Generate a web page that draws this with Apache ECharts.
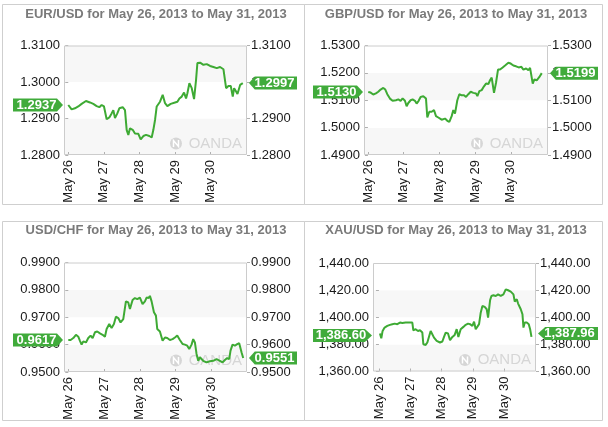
<!DOCTYPE html>
<html><head><meta charset="utf-8">
<script src="https://cdn.jsdelivr.net/npm/echarts@6/dist/echarts.min.js"></script>
<style>html,body{margin:0;padding:0;background:#fff}#c{width:608px;height:427px}</style>
</head><body><div id="c"></div>
<script>
// ---------- data ----------
const xTickDays = [0, 1, 2, 3, 4];
const xTickLabels = ['May 26', 'May 27', 'May 28', 'May 29', 'May 30'];
const pairs = ['EUR/USD', 'GBP/USD', 'USD/CHF', 'XAU/USD'];
const periodText = 'for May 26, 2013 to May 31, 2013';

// [day offset from May 26, price]
const eurusd = [[0,1.2937],[0.094,1.2925],[0.187,1.2928],[0.281,1.2933],[0.375,1.2940],[0.497,1.2948],[0.609,1.2944],[0.703,1.2940],[0.797,1.2934],[0.872,1.2931],[0.937,1.2937],[1.003,1.2933],[1.059,1.2934],[1.078,1.2898],[1.153,1.2903],[1.218,1.2914],[1.265,1.2923],[1.312,1.2901],[1.378,1.2914],[1.434,1.2928],[1.528,1.2931],[1.593,1.2923],[1.640,1.2869],[1.687,1.2855],[1.734,1.2873],[1.809,1.2869],[1.874,1.2859],[1.968,1.2858],[2.034,1.2843],[2.109,1.2852],[2.184,1.2855],[2.277,1.2852],[2.343,1.2848],[2.390,1.2869],[2.437,1.2896],[2.484,1.2933],[2.577,1.2946],[2.652,1.2965],[2.718,1.2942],[2.783,1.2934],[2.877,1.2940],[2.999,1.2944],[3.065,1.2946],[3.121,1.2955],[3.187,1.2960],[3.252,1.2971],[3.308,1.2955],[3.346,1.2969],[3.402,1.2997],[3.468,1.2983],[3.533,1.2953],[3.589,1.3006],[3.627,1.3052],[3.702,1.3053],[3.796,1.3047],[3.889,1.3049],[3.983,1.3044],[4.077,1.3041],[4.171,1.3038],[4.264,1.3041],[4.358,1.3035],[4.433,1.2983],[4.499,1.2989],[4.564,1.2989],[4.620,1.2960],[4.658,1.2983],[4.714,1.2974],[4.752,1.2967],[4.827,1.2992],[4.902,1.2997]];

const gbpusd = [[0.009,1.5130],[0.075,1.5128],[0.149,1.5121],[0.224,1.5125],[0.289,1.5131],[0.355,1.5139],[0.430,1.5145],[0.486,1.5139],[0.542,1.5122],[0.616,1.5106],[0.691,1.5098],[0.784,1.5100],[0.850,1.5103],[0.915,1.5098],[0.971,1.5107],[1.036,1.5098],[1.083,1.5078],[1.130,1.5090],[1.195,1.5100],[1.251,1.5103],[1.316,1.5098],[1.363,1.5088],[1.419,1.5098],[1.475,1.5112],[1.550,1.5115],[1.625,1.5106],[1.662,1.5037],[1.718,1.5058],[1.783,1.5058],[1.849,1.5064],[1.905,1.5042],[1.970,1.5037],[2.063,1.5029],[2.157,1.5033],[2.222,1.5025],[2.278,1.5021],[2.344,1.5042],[2.390,1.5064],[2.437,1.5051],[2.502,1.5100],[2.558,1.5122],[2.624,1.5118],[2.689,1.5118],[2.745,1.5112],[2.810,1.5122],[2.876,1.5131],[2.951,1.5127],[3.025,1.5125],[3.063,1.5115],[3.119,1.5133],[3.184,1.5137],[3.249,1.5151],[3.305,1.5161],[3.371,1.5159],[3.417,1.5173],[3.464,1.5183],[3.529,1.5127],[3.585,1.5164],[3.641,1.5212],[3.697,1.5212],[3.772,1.5220],[3.847,1.5228],[3.931,1.5237],[3.996,1.5234],[4.071,1.5227],[4.146,1.5224],[4.220,1.5220],[4.295,1.5222],[4.351,1.5212],[4.426,1.5216],[4.491,1.5210],[4.538,1.5218],[4.585,1.5212],[4.613,1.5161],[4.659,1.5176],[4.725,1.5173],[4.799,1.5185],[4.865,1.5199]];

const usdchf = [[0,0.9617],[0.065,0.9617],[0.140,0.9624],[0.214,0.9636],[0.279,0.9629],[0.326,0.9614],[0.372,0.9600],[0.419,0.9612],[0.493,0.9608],[0.558,0.9624],[0.623,0.9633],[0.679,0.9624],[0.744,0.9645],[0.809,0.9648],[0.884,0.9641],[0.958,0.9636],[1.023,0.9629],[1.070,0.9657],[1.144,0.9675],[1.209,0.9661],[1.274,0.9675],[1.330,0.9702],[1.395,0.9697],[1.460,0.9681],[1.535,0.9693],[1.609,0.9758],[1.674,0.9754],[1.721,0.9730],[1.795,0.9763],[1.860,0.9770],[1.926,0.9766],[2.000,0.9772],[2.074,0.9748],[2.140,0.9758],[2.186,0.9772],[2.242,0.9770],[2.279,0.9778],[2.326,0.9758],[2.391,0.9718],[2.447,0.9706],[2.484,0.9657],[2.558,0.9648],[2.633,0.9614],[2.698,0.9626],[2.763,0.9624],[2.837,0.9617],[2.912,0.9620],[2.977,0.9626],[3.042,0.9633],[3.116,0.9617],[3.191,0.9602],[3.256,0.9600],[3.321,0.9596],[3.377,0.9584],[3.442,0.9600],[3.488,0.9620],[3.535,0.9608],[3.581,0.9566],[3.628,0.9541],[3.674,0.9554],[3.767,0.9541],[3.860,0.9535],[3.953,0.9539],[4.047,0.9541],[4.140,0.9547],[4.233,0.9541],[4.307,0.9535],[4.372,0.9544],[4.437,0.9551],[4.493,0.9547],[4.530,0.9578],[4.586,0.9600],[4.651,0.9596],[4.716,0.9602],[4.772,0.9605],[4.809,0.9600],[4.837,0.9572],[4.884,0.9551]];

const xauusd = [[0.032,1388.0],[0.075,1384.5],[0.117,1389.9],[0.181,1392.4],[0.267,1393.6],[0.352,1394.4],[0.427,1394.9],[0.501,1395.3],[0.587,1394.9],[0.672,1396.1],[0.747,1395.8],[0.853,1396.1],[0.960,1396.1],[1.067,1396.1],[1.099,1390.4],[1.173,1391.2],[1.248,1389.9],[1.312,1390.4],[1.387,1388.7],[1.419,1380.1],[1.493,1379.6],[1.547,1381.4],[1.600,1380.6],[1.653,1389.9],[1.707,1388.7],[1.760,1385.0],[1.845,1382.6],[1.952,1381.4],[2.027,1382.1],[2.080,1385.5],[2.133,1388.7],[2.208,1388.0],[2.272,1383.1],[2.347,1385.5],[2.421,1387.0],[2.485,1391.2],[2.539,1385.5],[2.613,1391.2],[2.699,1392.9],[2.773,1394.4],[2.848,1395.3],[2.912,1394.9],[2.987,1393.6],[3.040,1396.8],[3.093,1391.2],[3.147,1392.4],[3.200,1394.9],[3.253,1403.4],[3.307,1408.3],[3.381,1407.6],[3.445,1405.9],[3.488,1399.8],[3.552,1412.5],[3.595,1415.7],[3.659,1416.2],[3.733,1415.7],[3.808,1416.9],[3.893,1415.7],[3.979,1416.9],[4.053,1420.6],[4.128,1419.9],[4.213,1418.9],[4.299,1416.9],[4.341,1411.5],[4.405,1413.3],[4.448,1410.1],[4.491,1411.5],[4.533,1405.9],[4.587,1402.2],[4.619,1392.4],[4.661,1396.1],[4.725,1396.1],[4.789,1394.9],[4.832,1391.2],[4.875,1385.5]];

const seriesData = [eurusd, gbpusd, usdchf, xauusd];
const openQuotes = [1.2937, 1.5130, 0.9617, 1386.60];
const closeQuotes = [1.2997, 1.5199, 0.9551, 1387.96];
const yMin = [1.28, 1.49, 0.95, 1360];
const yMax = [1.31, 1.53, 0.99, 1440];
const yStep = [0.01, 0.01, 0.01, 20];
const decimals = [4, 4, 4, 2];

// ---------- layout / style ----------
const FONT = '"Liberation Sans", Arial, Helvetica, sans-serif';
const LINE = '#3eaa34';
const BOX = '#40ab3b';
const panels = [
  {box:[2.5,4.5,302,200],   grid:{left:64, top:45.5, width:183, height:109.5}, xMin:-0.12, xMax:5.02, title:[156,14],  boxW:[50,48]},
  {box:[304.5,4.5,298,200], grid:{left:364,top:45.5, width:184, height:109.5}, xMin:-0.11, xMax:5.04, title:[456,14],  boxW:[50,48]},
  {box:[2.5,221.5,302,199], grid:{left:64, top:262.5,width:183, height:109.5}, xMin:-0.12, xMax:4.99, title:[156,230], boxW:[50,48]},
  {box:[304.5,221.5,298,199],grid:{left:373,top:263, width:163, height:108.5}, xMin:-0.19, xMax:5.02, title:[456,230], boxW:[59,60]}
];

function fmt(v, d) {
  const parts = v.toFixed(d).split('.');
  parts[0] = parts[0].replace(/\B(?=(\d{3})+(?!\d))/g, ',');
  return parts.join('.');
}

const LEFT_PATH = 'path://M0,0L44,0L50,6.5L44,13L0,13Z';
const RIGHT_PATH = 'path://M6,0L50,0L50,13L6,13L0,6.5Z';

const grids = [], xAxes = [], yAxes = [], series = [], graphics = [];

panels.forEach((p, i) => {
  grids.push(Object.assign({show:false, containLabel:false}, p.grid));
  xAxes.push({
    type:'value', gridIndex:i, min:p.xMin, max:p.xMax,
    axisLine:{show:false},
    axisTick:{show:true, inside:true, length:3, customValues:xTickDays, lineStyle:{color:'#b0b0b0'}},
    axisLabel:{show:true, customValues:xTickDays, rotate:90, margin:5, fontSize:13, color:'#1a1a1a', fontFamily:FONT,
      formatter:(v) => xTickLabels[xTickDays.indexOf(Math.round(v))] || ''},
    splitLine:{show:false}
  });
  const yCommon = {
    type:'value', gridIndex:i, min:yMin[i], max:yMax[i], interval:yStep[i],
    axisLine:{show:false},
    axisTick:{show:true, length:3, lineStyle:{color:'#b0b0b0'}},
    splitLine:{show:false}
  };
  yAxes.push(Object.assign({}, yCommon, {
    position:'left',
    axisLabel:{margin:4, fontSize:13, color:'#1a1a1a', fontFamily:FONT, formatter:(v)=>fmt(v, decimals[i])},
    splitArea:{show:true, areaStyle:{color:['#f7f7f7','#ffffff']}}
  }));
  yAxes.push(Object.assign({}, yCommon, {
    position:'right',
    axisLabel:{margin:4, fontSize:13, color:'#1a1a1a', fontFamily:FONT, formatter:(v)=>fmt(v, decimals[i])},
    splitArea:{show:false}
  }));
  const lw = p.boxW[0], rw = p.boxW[1];
  const lbl = (txt, off) => ({show:true, position:'inside', formatter:txt, color:'#fff', fontWeight:'bold',
    fontSize:13, fontFamily:FONT, offset:[off,0]});
  series.push({
    type:'line', xAxisIndex:i, yAxisIndex:2*i, data:seriesData[i],
    symbol:'none', showSymbol:false, animation:false, z:3,
    lineStyle:{color:LINE, width:2},
    markPoint:{
      silent:true, animation:false,
      data:[
        {coord:[p.xMin, openQuotes[i]], symbol:LEFT_PATH, symbolSize:[lw,13], symbolKeepAspect:false,
          symbolOffset:[-(lw/2+1),0], itemStyle:{color:BOX}, label:lbl(fmt(openQuotes[i],decimals[i]), -1.5)},
        {coord:[p.xMax, closeQuotes[i]], symbol:RIGHT_PATH, symbolSize:[rw,13], symbolKeepAspect:false,
          symbolOffset:[rw/2+2,0], itemStyle:{color:BOX}, label:lbl(fmt(closeQuotes[i],decimals[i]), 1.5)}
      ]
    }
  });

  const g = p.grid;
  const gr = g.left + g.width, gb = g.top + g.height;
  // panel frame
  graphics.push({type:'rect', z:5, silent:true, shape:{x:p.box[0], y:p.box[1], width:p.box[2], height:p.box[3]},
    style:{fill:'none', stroke:'#cfcfcf', lineWidth:1}});
  // plot frame
  graphics.push({type:'rect', z:4, silent:true, shape:{x:g.left+0.5, y:g.top+0.5, width:g.width-1, height:g.height-1},
    style:{fill:'none', stroke:'#cccccc', lineWidth:1}});
  // title
  graphics.push({type:'text', z:5, silent:true, x:p.title[0], y:p.title[1],
    style:{text:pairs[i] + ' ' + periodText, font:'bold 13px ' + FONT, fill:'#7a7a7a', align:'center', verticalAlign:'middle'}});
  // watermark
  graphics.push({type:'group', z:1, silent:true, x:gr, y:gb, children:[
    {type:'text', z:1, x:-5, y:-11.5, style:{text:'OANDA', font:'15px ' + FONT, fill:'#d6d6d6', align:'right', verticalAlign:'middle'}},
    {type:'circle', z:1, shape:{cx:-71, cy:-11.5, r:6}, style:{fill:'#d6d6d6'}},
    {type:'polyline', z:1, shape:{points:[[-73.5,-8],[-73.5,-14.5],[-68.5,-8.5],[-68.5,-15]]}, style:{stroke:'#ffffff', lineWidth:1.5, fill:'none'}}
  ]});
});

const chart = echarts.init(document.getElementById('c'), null, {renderer:'canvas'});
chart.setOption({
  animation:false,
  backgroundColor:'#ffffff',
  grid:grids, xAxis:xAxes, yAxis:yAxes, series:series,
  graphic:{elements:graphics}
});
</script></body></html>
